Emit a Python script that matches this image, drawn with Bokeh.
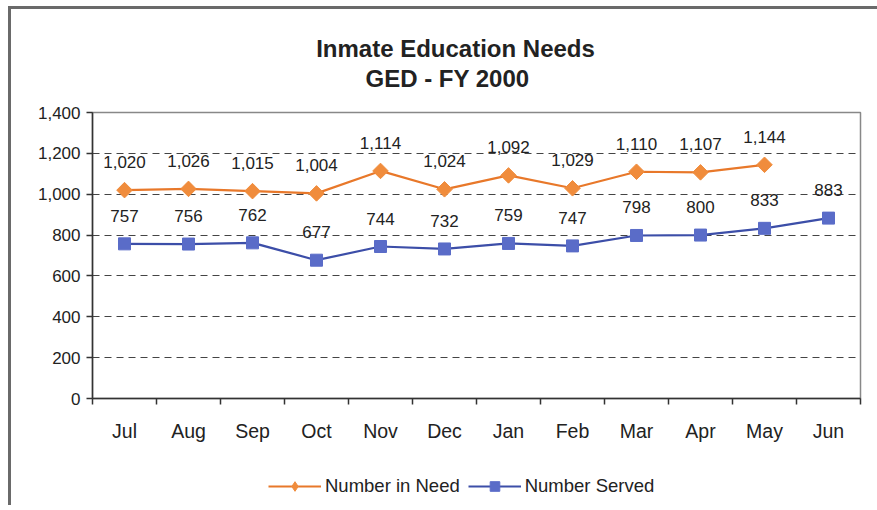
import math
from bokeh.plotting import figure
from bokeh.layouts import column
from bokeh.models import (ColumnDataSource, LabelSet, Legend, LegendItem,
                          FixedTicker, NumeralTickFormatter, Range1d)
from bokeh.core.properties import value
from bokeh.embed import file_html
from bokeh.resources import INLINE

months = ["Jul", "Aug", "Sep", "Oct", "Nov", "Dec", "Jan", "Feb", "Mar", "Apr", "May", "Jun"]
need = [1020, 1026, 1015, 1004, 1114, 1024, 1092, 1029, 1110, 1107, 1144]
served = [757, 756, 762, 677, 744, 732, 759, 747, 798, 800, 833, 883]
y_ticks = [0, 200, 400, 600, 800, 1000, 1200, 1400]
title_lines = ["Inmate Education Needs", "GED - FY 2000"]
series_names = ["Number in Need", "Number Served"]

FONT = "Liberation Sans"
TXT = "#222222"
ORANGE_LINE = "#E8782A"
ORANGE_MARK = "#F08C3C"
BLUE_LINE = "#3C4EA8"
BLUE_MARK = "#5A6CC8"

W = 866
BL, FW, BR = 81, 768, 17          # left border, frame width, right border (shared by all blocks)
HEAD_H, MAIN_TOP, FRAME_H, MAIN_BOT, FOOT_H = 91, 12, 286, 60, 47

xs_need = [i + 0.5 for i in range(len(need))]
xs_served = [i + 0.5 for i in range(len(served))]
need_src = ColumnDataSource(dict(x=xs_need, y=need, lab=[f"{v:,}" for v in need]))
served_src = ColumnDataSource(dict(x=xs_served, y=served, lab=[f"{v:,}" for v in served]))


def blank(h):
    # frame aligned with the main chart's frame; x range expressed in frame pixels
    f = figure(width=W, height=h, frame_width=FW, frame_height=h,
               output_backend="svg", toolbar_location=None,
               x_range=Range1d(0, FW), y_range=Range1d(0, h),
               x_axis_type=None, y_axis_type=None,
               min_border_left=BL, min_border_right=BR, min_border_top=0, min_border_bottom=0)
    f.grid.visible = False
    f.outline_line_color = None
    f.title.visible = False
    return f


# ---- title block
head = blank(HEAD_H)
head.text(x=[363, 355], y=[HEAD_H - 39, HEAD_H - 69], text=title_lines,
          text_align="center", text_baseline="middle", text_font=value(FONT),
          text_font_size="24px", text_font_style="bold", text_color=TXT)

# ---- main chart
p = figure(width=W, height=MAIN_TOP + FRAME_H + MAIN_BOT, output_backend="svg",
           toolbar_location=None,
           x_range=Range1d(0, len(months)), y_range=Range1d(0, 1400),
           frame_width=FW, frame_height=FRAME_H,
           min_border_left=BL, min_border_right=BR, min_border_top=MAIN_TOP,
           min_border_bottom=MAIN_BOT)
p.title.visible = False
p.outline_line_color = "#888888"
p.outline_line_width = 1.5

p.xaxis.ticker = FixedTicker(ticks=xs_served, minor_ticks=list(range(len(months) + 1)))
p.xaxis.major_label_overrides = {x: m for x, m in zip(xs_served, months)}
p.xaxis.major_tick_out = 0
p.xaxis.major_tick_in = 0
p.xaxis.minor_tick_out = 6
p.xaxis.minor_tick_in = 0
p.xaxis.minor_tick_line_color = "#333333"
p.xaxis.minor_tick_line_width = 1.5
p.xaxis.axis_line_color = "#333333"
p.xaxis.axis_line_width = 1.5
p.xaxis.major_label_text_font = FONT
p.xaxis.major_label_text_font_size = "19.5px"
p.xaxis.major_label_text_color = TXT
p.xaxis.major_label_standoff = 15

p.yaxis.ticker = FixedTicker(ticks=y_ticks)
p.yaxis.formatter = NumeralTickFormatter(format="0,0")
p.yaxis.minor_tick_line_color = None
p.yaxis.major_tick_out = 6
p.yaxis.major_tick_in = 0
p.yaxis.major_tick_line_color = "#333333"
p.yaxis.major_tick_line_width = 1.5
p.yaxis.axis_line_color = "#333333"
p.yaxis.axis_line_width = 1.5
p.yaxis.major_label_text_font = FONT
p.yaxis.major_label_text_font_size = "17px"
p.yaxis.major_label_text_color = TXT
p.yaxis.major_label_standoff = 6

p.xgrid.grid_line_color = None
p.ygrid.ticker = FixedTicker(ticks=y_ticks[1:])
p.ygrid.grid_line_color = "#444444"
p.ygrid.grid_line_dash = "7 5"
p.ygrid.grid_line_width = 1.2

p.line("x", "y", source=need_src, line_color=ORANGE_LINE, line_width=2.2)
p.scatter("x", "y", source=need_src, marker="square", size=11, angle=math.pi / 4,
          fill_color=ORANGE_MARK, line_color=ORANGE_MARK)
p.line("x", "y", source=served_src, line_color=BLUE_LINE, line_width=2.2)
p.scatter("x", "y", source=served_src, marker="square", size=12,
          fill_color=BLUE_MARK, line_color=BLUE_MARK)

for src in (need_src, served_src):
    p.add_layout(LabelSet(x="x", y="y", text="lab", source=src, y_offset=28,
                          text_align="center", text_baseline="middle",
                          text_font=value(FONT), text_font_size="17px", text_color=TXT))

# ---- legend block (proxy renderers with no visible data)
nan = float("nan")
foot = blank(FOOT_H)
fl1 = foot.line(x=[nan], y=[nan], line_color=ORANGE_LINE, line_width=2.2)
fm1 = foot.scatter(x=[nan], y=[nan], marker="diamond", size=14,
                   fill_color=ORANGE_MARK, line_color=ORANGE_MARK)
fl2 = foot.line(x=[nan], y=[nan], line_color=BLUE_LINE, line_width=2.2)
fm2 = foot.scatter(x=[nan], y=[nan], marker="square", size=10,
                   fill_color=BLUE_MARK, line_color=BLUE_MARK)
legend = Legend(items=[LegendItem(label=series_names[0], renderers=[fl1, fm1]),
                       LegendItem(label=series_names[1], renderers=[fl2, fm2])],
                orientation="horizontal", location=(176, 7),
                glyph_width=53, glyph_height=24, label_standoff=4, spacing=8,
                padding=0, margin=0, border_line_color=None, background_fill_alpha=0,
                label_text_font=FONT, label_text_font_size="18.5px", label_text_color=TXT)
foot.add_layout(legend, "center")

layout = column(head, p, foot, spacing=0,
                styles={"border-left": "3px solid #6a6a6a", "border-top": "3px solid #6a6a6a",
                        "margin-left": "8px", "margin-top": "6px"})

open("out.html", "w").write(file_html(layout, INLINE))
